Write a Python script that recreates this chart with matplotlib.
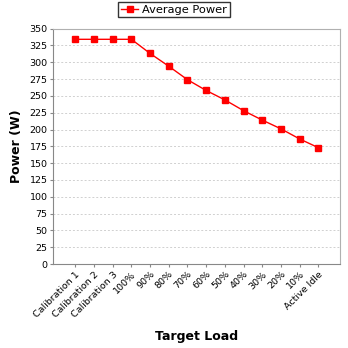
import matplotlib.pyplot as plt

# Data
loads = ["Calibration 1", "Calibration 2", "Calibration 3", "100%", "90%", "80%",
         "70%", "60%", "50%", "40%", "30%", "20%", "10%", "Active Idle"]
power = [334, 334, 334, 334, 313, 294, 274, 258, 244, 228, 214, 201, 186, 173]

fig = plt.figure(figsize=(3.48, 3.48), dpi=100)
ax = fig.add_axes([0.153, 0.241, 0.824, 0.677])

x = list(range(len(loads)))
line, = ax.plot(x, power, color="#ff0000", linewidth=1, marker="s",
                markersize=5, label="Average Power")

ax.set_ylim(0, 350)
ax.set_yticks(range(0, 351, 25))
ax.set_xlim(-1.18, len(loads) - 1 + 1.16)
ax.set_xticks(x)
ax.set_xticklabels(loads, rotation=45, ha="right", rotation_mode="anchor")
ax.tick_params(axis="both", labelsize=6.8, length=2, color="#888888", pad=2)

ax.yaxis.grid(True, linestyle=(0, (2, 2)), color="#d0d0d0", linewidth=0.7)
ax.set_axisbelow(True)
for s in ax.spines.values():
    s.set_color("#b0b0b0")
ax.spines["left"].set_color("#888888")
ax.spines["bottom"].set_color("#888888")

ax.set_xlabel("Target Load", fontsize=9, fontweight="bold", labelpad=8)
ax.set_ylabel("Power (W)", fontsize=9, fontweight="bold", labelpad=5)

fig.legend(handles=[line], loc="upper center", bbox_to_anchor=(0.5, 1.005),
           fontsize=8.2, frameon=True, fancybox=False, edgecolor="black",
           handlelength=1.5, borderpad=0.25, handletextpad=0.3,
           borderaxespad=0.3)

fig.savefig("out.png", dpi=100)
